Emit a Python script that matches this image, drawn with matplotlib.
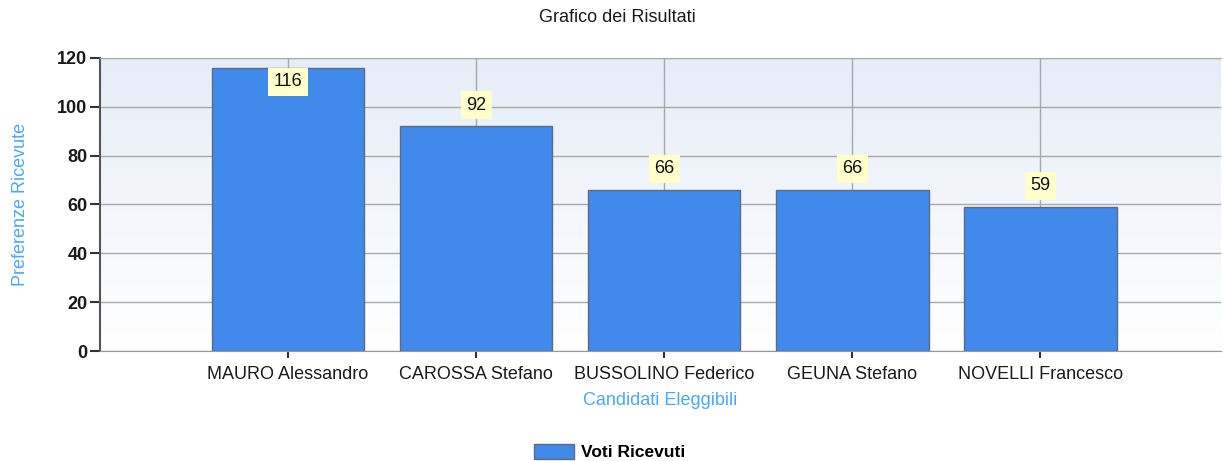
import matplotlib.pyplot as plt
import numpy as np

# Chart data.
candidates = ["MAURO Alessandro", "CAROSSA Stefano", "BUSSOLINO Federico",
              "GEUNA Stefano", "NOVELLI Francesco"]
votes = [116, 92, 66, 66, 59]
y_ticks = [0, 20, 40, 60, 80, 100, 120]


def script():
    plt.rcParams['font.family'] = ['Liberation Sans', 'DejaVu Sans']

    fig = plt.figure(figsize=(12.23, 4.61), dpi=100)
    ax = fig.add_axes([100 / 1223, 1 - 351 / 461, 1121 / 1223, 293 / 461])

    # Gradient background, light blue at top fading to white.
    grad = np.linspace(0, 1, 256).reshape(-1, 1)
    top = np.array([0.90, 0.93, 0.97])
    bottom = np.array([1.0, 1.0, 1.0])
    img = top * grad[..., None] + bottom * (1 - grad[..., None])
    ax.imshow(img, extent=[0, 1, 0, 1], transform=ax.transAxes,
              aspect='auto', origin='lower', zorder=0)

    x = np.arange(len(candidates))
    ax.bar(x, votes, width=0.81, color='#418AEC', edgecolor='#5B6B82',
           linewidth=1, zorder=3, label='Voti Ricevuti')

    # Value labels in pale yellow boxes.
    for xi, v in zip(x, votes):
        if v > 110:
            y, va, off = v, 'top', -4
        else:
            y, va, off = v, 'bottom', 9
        ax.annotate(str(v), (xi, y), xytext=(0, off), textcoords='offset points',
                    ha='center', va=va, fontsize=13, color='#111111', zorder=5,
                    bbox=dict(boxstyle='square,pad=0.3', fc='#FFFFCC', ec='none'))

    ax.set_xlim(-1, 4.96)
    ax.set_ylim(0, 120)
    ax.set_xticks(x)
    ax.set_xticklabels(candidates, fontsize=13, color='#1a1a1a')
    ax.set_yticks(y_ticks)
    ax.set_yticklabels([str(t) for t in y_ticks], fontsize=13,
                       fontweight='bold', color='#1a1a1a')
    ax.tick_params(axis='y', length=7, width=1.5, color='#333333', pad=2)
    ax.tick_params(axis='x', length=5, width=1.5, color='#333333', pad=6)

    ax.grid(True, color='#A8A8A8', linewidth=1, zorder=1)
    ax.set_axisbelow(True)

    ax.spines['right'].set_visible(False)
    ax.spines['top'].set_color('#A8A8A8')
    ax.spines['left'].set_color('#555555')
    ax.spines['bottom'].set_color('#999999')
    ax.spines['left'].set_linewidth(1.5)

    ax.set_xlabel('Candidati Eleggibili', fontsize=13, color='#4DA6FF', labelpad=6)
    ax.set_ylabel('Preferenze Ricevute', fontsize=13, color='#4DA6FF', labelpad=20)

    fig.text(617 / 1223, 1 - 18 / 461, 'Grafico dei Risultati', ha='center',
             va='center', fontsize=13, color='#1a1a1a')

    fig.legend(loc='center', bbox_to_anchor=(610 / 1223, 1 - 452 / 461),
               frameon=False, prop={'weight': 'bold', 'size': 12.5},
               handlelength=2.3, handleheight=1.0, handletextpad=0.4)

    fig.savefig('out.png', dpi=100)


# Run the plotting script.
if __name__ == "__main__":
    script()
